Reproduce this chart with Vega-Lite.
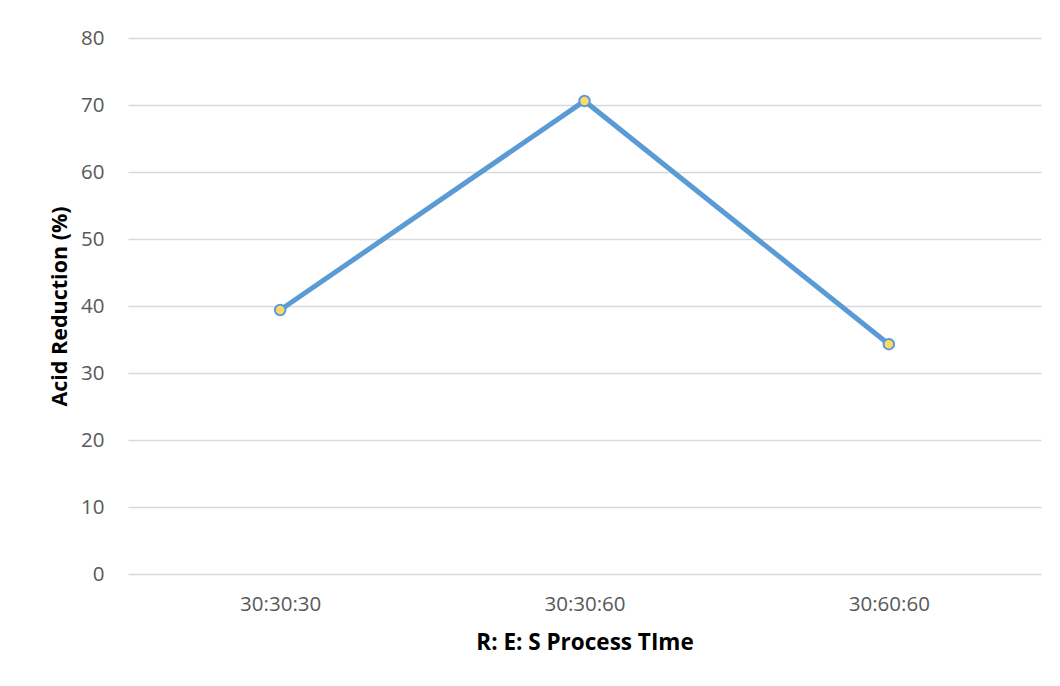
{
  "$schema": "https://vega.github.io/schema/vega-lite/v6.json",
  "autosize": {"type": "none"},
  "width": 913,
  "height": 536,
  "padding": {"left": 128, "top": 38, "right": 19, "bottom": 112},
  "background": "white",
  "config": {
    "view": {"stroke": null},
    "font": "Open Sans"
  },
  "data": {
    "values": [
      {"time": "30:30:30", "reduction": 39.4},
      {"time": "30:30:60", "reduction": 70.6},
      {"time": "30:60:60", "reduction": 34.3}
    ]
  },
  "encoding": {
    "x": {
      "field": "time",
      "type": "ordinal",
      "sort": null,
      "scale": {"type": "point", "padding": 0.5},
      "axis": {
        "title": "R: E: S Process TIme",
        "titleFont": "Open Sans",
        "titleFontSize": 22.5,
        "titleFontWeight": "bold",
        "titleColor": "#000000",
        "titlePadding": 17,
        "labelFont": "Open Sans",
        "labelFontSize": 20.5,
        "labelColor": "#595959",
        "labelAngle": 0,
        "labelPadding": 20,
        "domain": false,
        "ticks": false,
        "grid": false
      }
    },
    "y": {
      "field": "reduction",
      "type": "quantitative",
      "scale": {"domain": [0, 80]},
      "axis": {
        "title": "Acid Reduction (%)",
        "titleFont": "Open Sans",
        "titleFontSize": 21.5,
        "titleFontWeight": "bold",
        "titleColor": "#000000",
        "titlePadding": 9,
        "labelFont": "Open Sans",
        "labelFontSize": 20.5,
        "labelColor": "#595959",
        "labelPadding": 24,
        "values": [0, 10, 20, 30, 40, 50, 60, 70, 80],
        "domain": false,
        "ticks": false,
        "grid": true,
        "gridColor": "#D9D9D9",
        "gridWidth": 1.5
      }
    }
  },
  "layer": [
    {
      "mark": {"type": "line", "color": "#5B9BD5", "strokeWidth": 5, "strokeCap": "round", "strokeJoin": "miter"}
    },
    {
      "mark": {"type": "point", "filled": true, "fill": "#FFD966", "stroke": "#5B9BD5", "strokeWidth": 2, "size": 110, "opacity": 1}
    }
  ]
}
